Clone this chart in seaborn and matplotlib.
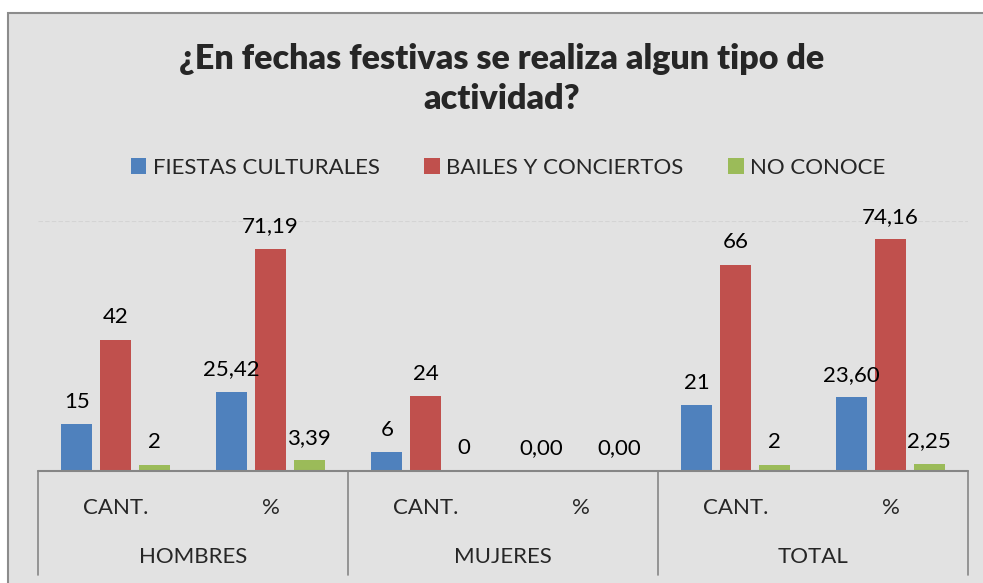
import numpy as np
import pandas as pd
import seaborn as sns
import matplotlib.pyplot as plt
import matplotlib.transforms as mtransforms
from matplotlib.patches import Rectangle

# data
groups = ['HOMBRES', 'MUJERES', 'TOTAL']
subcats = ['CANT.', '%']
categories = ['HOMBRES CANT.', 'HOMBRES %', 'MUJERES CANT.', 'MUJERES %', 'TOTAL CANT.', 'TOTAL %']
series = ['FIESTAS CULTURALES', 'BAILES Y CONCIERTOS', 'NO CONOCE']
fiestas = [15, 25.42, 6, 0.00, 21, 23.60]
bailes = [42, 71.19, 24, np.nan, 66, 74.16]
no_conoce = [2, 3.39, 0, 0.00, 2, 2.25]
colors = ['#4F81BD', '#C0504D', '#9BBB59']

def fmt_label(v, idx):
    if idx % 2 == 0:
        return f'{v:.0f}'
    return f'{v:.2f}'.replace('.', ',')

def main():
    rows = []
    for name, vals in zip(series, [fiestas, bailes, no_conoce]):
        for cat, v in zip(categories, vals):
            rows.append({'cat': cat, 'serie': name, 'valor': v})
    df = pd.DataFrame(rows)

    sns.set_style('white')
    plt.rcParams['font.family'] = ['Lato', 'DejaVu Sans']

    W, H = 983, 583
    fig = plt.figure(figsize=(W / 100, H / 100), dpi=100)
    fig.patch.set_facecolor('white')
    # chart frame / background
    fig.patches.append(Rectangle((8 / W, -0.05), 1.05, (H - 13) / H + 0.05,
                                 transform=fig.transFigure, facecolor='#e2e2e2',
                                 edgecolor='#8c8c8c', lw=1.5, zorder=-10))

    left, right, top, bottom = 38, 968, 221, 471
    ax = fig.add_axes([left / W, (H - bottom) / H, (right - left) / W, (bottom - top) / H])
    ax.set_facecolor('none')

    sns.barplot(data=df, x='cat', y='valor', hue='serie', order=categories,
                hue_order=series, palette=colors, width=0.75, gap=0.2,
                saturation=1, linewidth=0, ax=ax, zorder=3)

    ax.set_ylim(0, 80)
    ax.set_xlim(-0.5, 5.5)
    ax.axhline(80, color='#d4d4d4', lw=0.8, ls=(0, (4, 2)), zorder=1)
    for s in ax.spines.values():
        s.set_visible(False)
    ax.set_yticks([])
    ax.set_xticks([])
    ax.set_xlabel('')
    ax.set_ylabel('')

    for cont in ax.containers:
        labels = []
        for bar in cont:
            idx = int(round(bar.get_x() + bar.get_width() / 2))
            labels.append(fmt_label(bar.get_height(), idx))
        ax.bar_label(cont, labels=labels, padding=9, fontsize=16, color='black')

    # category axis with two levels
    trans = mtransforms.blended_transform_factory(ax.transData, ax.transAxes)
    ax.plot([-0.5, 5.5], [0, 0], transform=trans, color='#868686', lw=1.5, clip_on=False, zorder=4)
    sep_bottom = (bottom - 575) / (bottom - top)
    for xs in [-0.5, 1.5, 3.5, 5.5]:
        ax.plot([xs, xs], [0, sep_bottom], transform=trans, color='#868686', lw=1.2, clip_on=False)
    y1 = (bottom - 508) / (bottom - top)
    y2 = (bottom - 557) / (bottom - top)
    for i, cat in enumerate(categories):
        ax.text(i, y1, subcats[i % 2], transform=trans, ha='center', va='center', fontsize=16)
    for g, name in enumerate(groups):
        ax.text(2 * g + 0.5, y2, name, transform=trans, ha='center', va='center', fontsize=16)

    fig.text(502 / W, (H - 79) / H, '¿En fechas festivas se realiza algun tipo de\nactividad?',
             ha='center', va='center', fontsize=24.5, fontweight='heavy', linespacing=1.3)

    sns.move_legend(ax, 'center', bbox_to_anchor=(508 / W, (H - 168) / H),
                    bbox_transform=fig.transFigure, ncol=3, frameon=False, title=None,
                    fontsize=16, handlelength=0.7, handleheight=0.7,
                    handletextpad=0.3, columnspacing=2.0)

    fig.savefig('out.png', dpi=100)

if __name__ == "__main__":
    main()
